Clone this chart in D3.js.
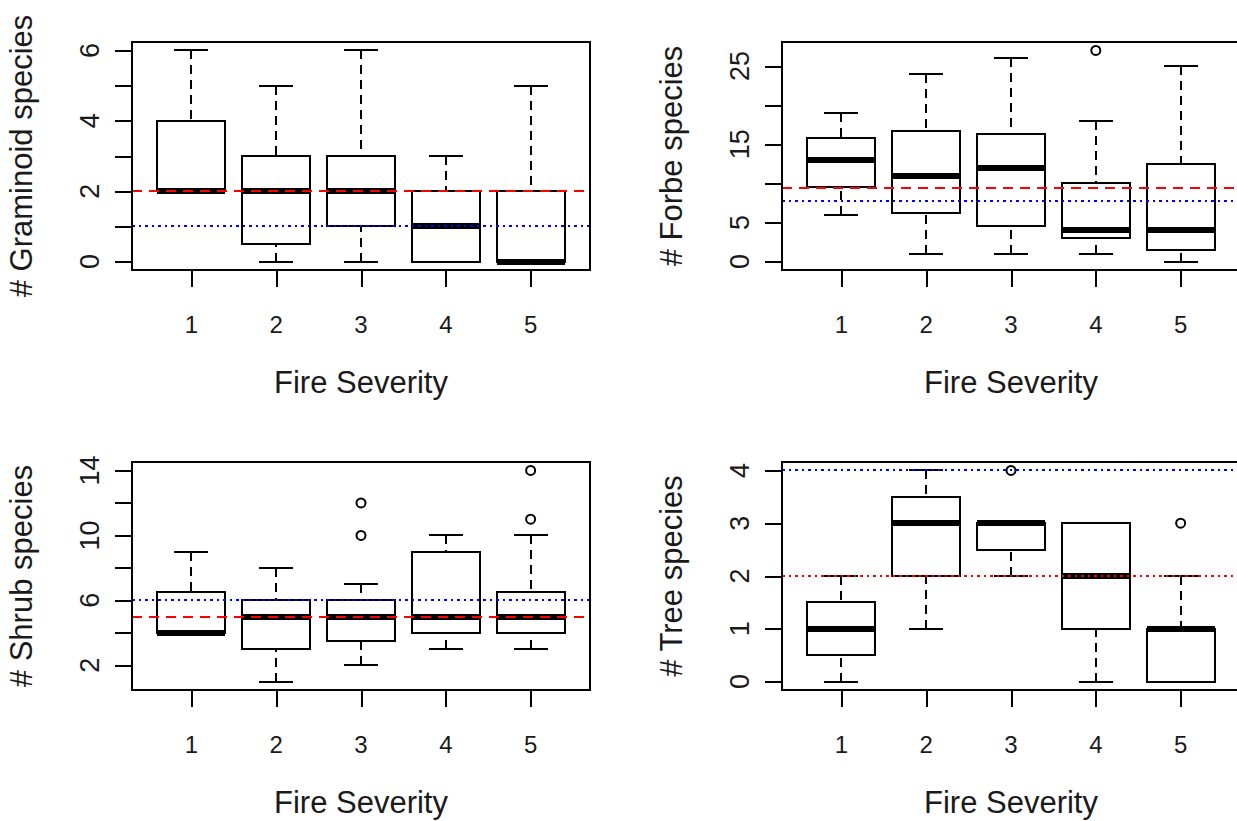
<!DOCTYPE html>
<html>
<head>
<meta charset="utf-8">
<script src="https://cdn.jsdelivr.net/npm/d3@7"></script>
<style>
  html, body { margin: 0; padding: 0; background: #fff; }
  svg { display: block; font-family: "Liberation Sans", Arial, sans-serif; }
  svg text { fill: #1a1a1a; }
  svg line, svg rect { shape-rendering: crispEdges; }
</style>
</head>
<body>
<div id="chart"></div>
<script>
/* global d3 */

const severity = [1, 2, 3, 4, 5];

// per severity class: [lower whisker, Q1, median, Q3, upper whisker]
const graminoidStats = [[2, 2, 2, 4, 6], [0, 0.5, 2, 3, 5], [0, 1, 2, 3, 6], [0, 0, 1, 2, 3], [0, 0, 0, 2, 5]];
const forbeStats = [[6, 9.5, 13, 15.75, 19], [1, 6.25, 11, 16.75, 24], [1, 4.5, 12, 16.25, 26], [1, 3, 4, 10, 18], [0, 1.5, 4, 12.5, 25]];
const shrubStats = [[4, 4, 4, 6.5, 9], [1, 3, 5, 6, 8], [2, 3.5, 5, 6, 7], [3, 4, 5, 9, 10], [3, 4, 5, 6.5, 10]];
const treeStats = [[0, 0.5, 1, 1.5, 2], [1, 2, 3, 3.5, 4], [2, 2.5, 3, 3, 3], [0, 1, 2, 3, 3], [0, 0, 1, 1, 2]];

// outliers per severity class
const graminoidOutliers = [[], [], [], [], []];
const forbeOutliers = [[], [], [], [27], []];
const shrubOutliers = [[], [], [10, 12], [], [11, 14]];
const treeOutliers = [[], [], [4], [], [3]];

// reference lines: [red, blue]
const graminoidRef = [2, 1];
const forbeRef = [9.4, 7.8];
const shrubRef = [5, 6];
const treeRef = [2, 4];

// y ticks and the tick labels R kept
const graminoidTicks = [0, 1, 2, 3, 4, 5, 6];
const graminoidLabels = [0, 2, 4, 6];
const forbeTicks = [0, 5, 10, 15, 20, 25];
const forbeLabels = [0, 5, 15, 25];
const shrubTicks = [2, 4, 6, 8, 10, 12, 14];
const shrubLabels = [2, 6, 10, 14];
const treeTicks = [0, 1, 2, 3, 4];
const treeLabels = [0, 1, 2, 3, 4];

const W = 458;
const H = 228;

/**
 * Draws one R-style boxplot panel.
 * @param {object} svg - d3 selection of the root svg
 * @param {object} cfg - panel settings
 */
function drawBoxPanel(svg, cfg) {
    const g = svg.append('g')
        .attr('transform', `translate(${cfg.left},${cfg.top})`);

    // y range like R: data range plus 4% each side
    const all = cfg.stats.flat().concat(cfg.outliers.flat());
    const lo = d3.min(all);
    const hi = d3.max(all);
    const pad = (hi - lo) * 0.04;

    const x = d3.scaleLinear().domain([0.3, 5.7]).range([0, W]);
    const y = d3.scaleLinear().domain([lo - pad, hi + pad]).range([H, 0]);

    const boxW = x(0.8) - x(0);
    const capW = x(0.4) - x(0);

    const rows = cfg.stats.map((s, i) => ({
        cat: severity[i], lo: s[0], q1: s[1], med: s[2], q3: s[3], hi: s[4]
    }));

    // whiskers (dashed, drawn from the cap towards the box)
    ['hi', 'lo'].forEach(end => {
        const edge = end === 'hi' ? 'q3' : 'q1';
        g.selectAll('.whisker-' + end)
            .data(rows)
            .enter().append('line')
            .attr('x1', d => x(d.cat))
            .attr('x2', d => x(d.cat))
            .attr('y1', d => y(d[end]))
            .attr('y2', d => y(d[edge]))
            .attr('stroke', '#000')
            .attr('stroke-width', 2)
            .attr('stroke-dasharray', '9,6');

        g.selectAll('.cap-' + end)
            .data(rows)
            .enter().append('line')
            .attr('x1', d => x(d.cat) - capW / 2)
            .attr('x2', d => x(d.cat) + capW / 2)
            .attr('y1', d => y(d[end]))
            .attr('y2', d => y(d[end]))
            .attr('stroke', '#000')
            .attr('stroke-width', 2);
    });

    // boxes
    g.selectAll('.box')
        .data(rows)
        .enter().append('rect')
        .attr('x', d => x(d.cat) - boxW / 2)
        .attr('y', d => y(d.q3))
        .attr('width', boxW)
        .attr('height', d => y(d.q1) - y(d.q3))
        .attr('fill', 'none')
        .attr('stroke', '#000')
        .attr('stroke-width', 2);

    // medians
    g.selectAll('.median')
        .data(rows)
        .enter().append('line')
        .attr('x1', d => x(d.cat) - boxW / 2)
        .attr('x2', d => x(d.cat) + boxW / 2)
        .attr('y1', d => y(d.med))
        .attr('y2', d => y(d.med))
        .attr('stroke', '#000')
        .attr('stroke-width', 6);

    // outliers
    const outs = [];
    cfg.outliers.forEach((o, i) => o.forEach(v => outs.push({ cat: severity[i], v })));
    g.selectAll('.outlier')
        .data(outs)
        .enter().append('circle')
        .attr('cx', d => x(d.cat))
        .attr('cy', d => y(d.v))
        .attr('r', 4.5)
        .attr('fill', 'none')
        .attr('stroke', '#000')
        .attr('stroke-width', 2);

    // reference lines (abline)
    g.append('line')
        .attr('x1', 0).attr('x2', W)
        .attr('y1', y(cfg.ref[0])).attr('y2', y(cfg.ref[0]))
        .attr('stroke', '#ff0000')
        .attr('stroke-width', 2)
        .attr('stroke-dasharray', cfg.redDash);
    g.append('line')
        .attr('x1', 0).attr('x2', W)
        .attr('y1', y(cfg.ref[1])).attr('y2', y(cfg.ref[1]))
        .attr('stroke', '#0000ff')
        .attr('stroke-width', 2)
        .attr('stroke-dasharray', '2.5,4');

    // frame
    g.append('rect')
        .attr('width', W)
        .attr('height', H)
        .attr('fill', 'none')
        .attr('stroke', '#000')
        .attr('stroke-width', 2);

    // x axis
    const xAxis = g.append('g')
        .attr('transform', `translate(0,${H})`)
        .call(d3.axisBottom(x).tickValues(severity).tickSize(17).tickPadding(0).tickFormat(''));
    xAxis.select('.domain').remove();
    xAxis.selectAll('line').attr('stroke-width', 2);

    g.selectAll('.x-label')
        .data(severity)
        .enter().append('text')
        .attr('x', d => x(d))
        .attr('y', H + 63)
        .attr('text-anchor', 'middle')
        .style('font-size', '24px')
        .text(d => d);

    // y axis
    const yAxis = g.append('g')
        .call(d3.axisLeft(y).tickValues(cfg.ticks).tickSize(17).tickFormat(''));
    yAxis.select('.domain').remove();
    yAxis.selectAll('line').attr('stroke-width', 2);

    g.selectAll('.y-label')
        .data(cfg.labels)
        .enter().append('text')
        .attr('transform', d => `translate(-33,${y(d)}) rotate(-90)`)
        .attr('text-anchor', 'middle')
        .style('font-size', '27px')
        .text(d => d);

    // titles
    g.append('text')
        .attr('x', W / 2)
        .attr('y', H + 123)
        .attr('text-anchor', 'middle')
        .style('font-size', '31px')
        .text('Fire Severity');

    g.append('text')
        .attr('transform', `translate(-100,${H / 2}) rotate(-90)`)
        .attr('text-anchor', 'middle')
        .style('font-size', '31px')
        .text(cfg.title);
}

const svg = d3.select('#chart').append('svg')
    .attr('width', 1237)
    .attr('height', 821);

svg.append('rect').attr('width', 1237).attr('height', 821).attr('fill', '#fff');

drawBoxPanel(svg, {
    left: 132, top: 42, stats: graminoidStats, outliers: graminoidOutliers,
    ref: graminoidRef, redDash: '10,7', ticks: graminoidTicks, labels: graminoidLabels,
    title: '# Graminoid species'
});
drawBoxPanel(svg, {
    left: 782, top: 42, stats: forbeStats, outliers: forbeOutliers,
    ref: forbeRef, redDash: '10,7', ticks: forbeTicks, labels: forbeLabels,
    title: '# Forbe species'
});
drawBoxPanel(svg, {
    left: 132, top: 462, stats: shrubStats, outliers: shrubOutliers,
    ref: shrubRef, redDash: '10,7', ticks: shrubTicks, labels: shrubLabels,
    title: '# Shrub species'
});
drawBoxPanel(svg, {
    left: 782, top: 462, stats: treeStats, outliers: treeOutliers,
    ref: treeRef, redDash: '2.5,4', ticks: treeTicks, labels: treeLabels,
    title: '# Tree species'
});
</script>
</body>
</html>
